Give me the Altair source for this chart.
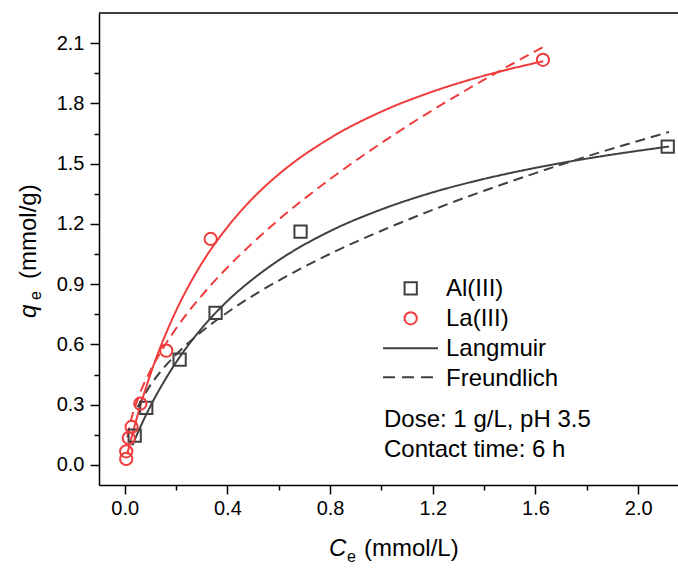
import altair as alt
import pandas as pd

# ---- data ----
al_ce = [0.039, 0.084, 0.214, 0.354, 0.685, 2.115]
al_qe = [0.146, 0.284, 0.524, 0.757, 1.161, 1.585]
la_ce = [0.006, 0.006, 0.016, 0.027, 0.061, 0.162, 0.335, 1.629]
la_qe = [0.030, 0.068, 0.134, 0.189, 0.305, 0.569, 1.125, 2.017]

al_lang_c = [0.03, 0.05, 0.1, 0.15, 0.2, 0.3, 0.4, 0.5, 0.6, 0.8, 1.0, 1.2, 1.4, 1.6, 1.8, 2.0, 2.12]
al_lang_q = [0.097, 0.157, 0.292, 0.408, 0.510, 0.680, 0.816, 0.926, 1.019, 1.164, 1.272, 1.357, 1.424, 1.479, 1.525, 1.564, 1.585]
al_freu_c = [0.05, 0.1, 0.15, 0.2, 0.3, 0.4, 0.5, 0.6, 0.8, 1.0, 1.2, 1.4, 1.6, 1.8, 2.0, 2.12]
al_freu_q = [0.287, 0.397, 0.480, 0.549, 0.664, 0.759, 0.843, 0.918, 1.051, 1.166, 1.270, 1.365, 1.453, 1.536, 1.613, 1.658]
la_lang_c = [0.01, 0.02, 0.05, 0.1, 0.15, 0.2, 0.3, 0.4, 0.5, 0.6, 0.8, 1.0, 1.2, 1.4, 1.63]
la_lang_q = [0.053, 0.104, 0.246, 0.450, 0.621, 0.767, 1.003, 1.184, 1.329, 1.447, 1.627, 1.759, 1.859, 1.938, 2.010]
la_freu_c = [0.01, 0.02, 0.05, 0.1, 0.15, 0.2, 0.3, 0.4, 0.5, 0.6, 0.8, 1.0, 1.2, 1.4, 1.63]
la_freu_q = [0.137, 0.199, 0.324, 0.469, 0.582, 0.679, 0.843, 0.983, 1.107, 1.221, 1.423, 1.603, 1.767, 1.918, 2.081]

x_ticks = [0.0, 0.2, 0.4, 0.6, 0.8, 1.0, 1.2, 1.4, 1.6, 1.8, 2.0]
y_ticks = [0.0, 0.15, 0.3, 0.45, 0.6, 0.75, 0.9, 1.05, 1.2, 1.35, 1.5, 1.65, 1.8, 1.95, 2.1]

DARK = "#404040"
RED = "#f03c3c"
FONT = "Liberation Sans"
W, H = 579, 472

xaxis = alt.Axis(
    values=x_ticks,
    labelExpr="round(datum.value*10) % 4 == 0 ? format(datum.value, '.1f') : ''",
    tickSize={"condition": {"test": "round(datum.value*10) % 4 == 0", "value": 9}, "value": 5},
    grid=False, domainColor="black", domainWidth=1.5, tickColor="black", tickWidth=1.5,
    labelFont=FONT, labelFontSize=20, labelColor="black", labelPadding=4,
    labelFlush=False, title=None,
)
yaxis = alt.Axis(
    values=y_ticks,
    labelExpr="round(datum.value*100) % 30 == 0 ? format(datum.value, '.1f') : ''",
    tickSize={"condition": {"test": "round(datum.value*100) % 30 == 0", "value": 9}, "value": 5},
    grid=False, domainColor="black", domainWidth=1.5, tickColor="black", tickWidth=1.5,
    labelFont=FONT, labelFontSize=20, labelColor="black", labelPadding=6,
    labelFlush=False, title=None,
)
X = alt.X("C:Q", scale=alt.Scale(domain=[-0.1, 2.155], nice=False, zero=False), axis=xaxis)
Y = alt.Y("q:Q", scale=alt.Scale(domain=[-0.1, 2.25], nice=False, zero=False), axis=yaxis)


def df(c, q):
    return pd.DataFrame({"C": c, "q": q})


def curve(c, q, color, dash):
    return alt.Chart(df(c, q)).mark_line(
        color=color, strokeWidth=2, strokeDash=dash, interpolate="monotone", clip=True
    ).encode(x=X, y=Y)


layers = [
    curve(al_lang_c, al_lang_q, DARK, [1, 0]),
    curve(al_freu_c, al_freu_q, DARK, [10, 6]),
    curve(la_lang_c, la_lang_q, RED, [1, 0]),
    curve(la_freu_c, la_freu_q, RED, [10, 6]),
    alt.Chart(df(al_ce, al_qe)).mark_point(
        shape="square", filled=False, size=150, strokeWidth=2, color=DARK, opacity=1
    ).encode(x=X, y=Y),
    alt.Chart(df(la_ce, la_qe)).mark_point(
        shape="circle", filled=False, size=150, strokeWidth=2, color=RED, opacity=1
    ).encode(x=X, y=Y),
]

# top frame line
layers.append(alt.Chart().mark_rule(color="black", strokeWidth=1.5).encode(
    x=alt.value(0), x2=alt.value(W), y=alt.value(0)))

# legend
layers.append(alt.Chart().mark_point(shape="square", filled=False, size=150, strokeWidth=2,
                                     color=DARK, opacity=1).encode(
    x=alt.value(311.7), y=alt.value(275.3)))
layers.append(alt.Chart().mark_point(shape="circle", filled=False, size=150, strokeWidth=2,
                                     color=RED, opacity=1).encode(
    x=alt.value(311.7), y=alt.value(305.3)))
layers.append(alt.Chart().mark_rule(color=DARK, strokeWidth=2).encode(
    x=alt.value(284), x2=alt.value(339), y=alt.value(335.3)))
layers.append(alt.Chart().mark_rule(color=DARK, strokeWidth=2, strokeDash=[12, 7]).encode(
    x=alt.value(284), x2=alt.value(339), y=alt.value(364.3)))


def txt(s, x, y, size=24, style="normal", angle=0):
    return alt.Chart().mark_text(
        align="left", baseline="alphabetic", font=FONT, fontSize=size,
        fontStyle=style, color="black", angle=angle
    ).encode(x=alt.value(x), y=alt.value(y), text=alt.value(s))


layers += [
    txt("Al(III)", 347, 282.5),
    txt("La(III)", 347, 312.5),
    txt("Langmuir", 347, 343.0),
    txt("Freundlich", 347, 373.0),
    txt("Dose: 1 g/L, pH 3.5", 285, 413.7),
    txt("Contact time: 6 h", 285, 443.7),
    # x title
    txt("C", 230, 542.5, style="italic"),
    txt("e", 248, 548.5, size=16),
    txt("(mmol/L)", 265, 542.5),
    # y title
    txt("q", -63.5, 305, style="italic", angle=270),
    txt("e", -58.0, 287, size=16, angle=270),
    txt("(mmol/g)", -63.5, 266, angle=270),
]

chart = alt.layer(*layers).properties(
    width=W, height=H,
    autosize=alt.AutoSizeParams(type="none"),
    padding={"left": 99, "top": 13, "right": 0, "bottom": 85},
    background="white",
).configure_view(stroke=None)

chart.save("out.html", embed_options={"renderer": "svg", "actions": False})
